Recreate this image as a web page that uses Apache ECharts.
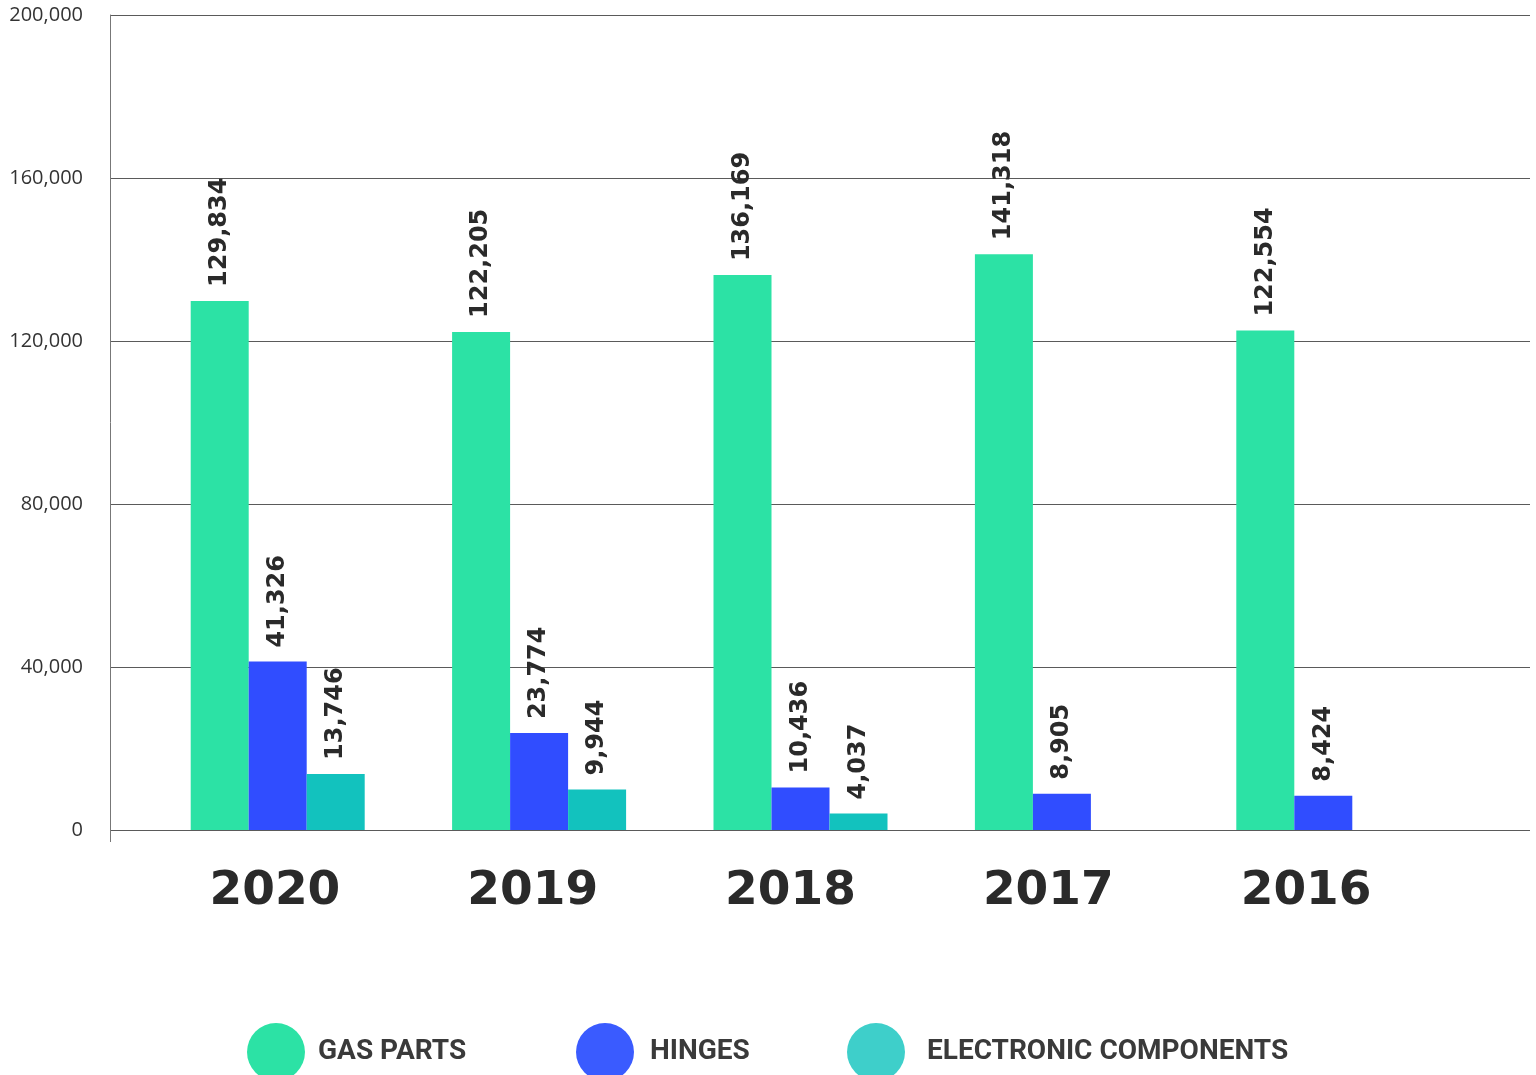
<!DOCTYPE html>
<html>
<head>
<meta charset="utf-8">
<title>Sales by product line, 2016–2020</title>
<script src="https://cdn.jsdelivr.net/npm/echarts@6/dist/echarts.min.js"></script>
<style>
  html, body { margin: 0; padding: 0; background: #ffffff; }
  #chart { width: 1536px; height: 1075px; }
</style>
</head>
<body>
<div id="chart"></div>
<script>
// Years shown left to right
const years = ['2020', '2019', '2018', '2017', '2016'];

// Units per product line and year (null = no entry that year)
const gasParts = [129834, 122205, 136169, 141318, 122554];
const hinges = [41326, 23774, 10436, 8905, 8424];
const electronicComponents = [13746, 9944, 4037, null, null];

// Value axis range and step
const yMin = 0;
const yMax = 200000;
const yStep = 40000;

const seriesNames = ['GAS PARTS', 'HINGES', 'ELECTRONIC COMPONENTS'];
const barColors = ['#2ce2a5', '#304dff', '#12c2be'];
const legendColors = ['#2ce2a5', '#3a5bff', '#3ecfca'];

const ink = '#2a2a2a';
const fmt = v => Number(v).toLocaleString('en-US');

const valueLabel = {
  show: true,
  position: 'top',
  rotate: 90,
  align: 'left',
  verticalAlign: 'middle',
  distance: 14,
  fontFamily: 'DejaVu Sans',
  fontWeight: 'bold',
  fontSize: 24,
  color: ink,
  formatter: p => fmt(p.value)
};

function barSeries(i, data) {
  return {
    name: seriesNames[i],
    type: 'bar',
    xAxisIndex: 1,
    yAxisIndex: 1,
    data: data,
    barWidth: 58,
    barGap: '0%',
    itemStyle: { color: barColors[i] },
    label: valueLabel,
    emphasis: { disabled: true }
  };
}

function legendItem(i, left, textGap) {
  return {
    data: [{ name: seriesNames[i], itemStyle: { color: legendColors[i] } }],
    left: left,
    top: 1023,
    padding: 0,
    orient: 'horizontal',
    icon: 'circle',
    itemWidth: 58,
    itemHeight: 58,
    selectedMode: false,
    textStyle: {
      fontFamily: '"Liberation Sans Narrow", "Roboto", sans-serif',
      fontWeight: 'bold',
      fontSize: 28,
      color: '#3a3a3a',
      padding: [6, 0, 0, textGap]
    }
  };
}

const chart = echarts.init(document.getElementById('chart'), null, { renderer: 'canvas' });

chart.setOption({
  animation: false,
  backgroundColor: '#ffffff',
  grid: [
    // frame: gridlines, value labels and left axis line
    { left: 110, right: 6, top: 15, bottom: 245 },
    // bars
    { left: 147, right: 82, top: 15, bottom: 245 },
    // year labels
    { left: 146, right: 101, top: 15, bottom: 245 }
  ],
  xAxis: [
    {
      gridIndex: 0,
      type: 'value',
      min: 0,
      max: 1,
      axisLine: { show: false },
      axisTick: { show: true, customValues: [0], length: 12, lineStyle: { color: '#777777', width: 1 } },
      axisLabel: { show: false },
      splitLine: { show: false }
    },
    {
      gridIndex: 1,
      type: 'category',
      data: years,
      axisLine: { show: false },
      axisTick: { show: false },
      axisLabel: { show: false }
    },
    {
      gridIndex: 2,
      type: 'category',
      data: years,
      axisLine: { show: false },
      axisTick: { show: false },
      axisLabel: {
        margin: 38,
        fontFamily: 'DejaVu Sans',
        fontWeight: 'bold',
        fontSize: 47,
        color: ink
      }
    }
  ],
  yAxis: [
    {
      gridIndex: 0,
      type: 'value',
      min: yMin,
      max: yMax,
      interval: yStep,
      axisLine: { show: true, lineStyle: { color: '#777777', width: 1 } },
      axisTick: { show: false },
      axisLabel: {
        margin: 27,
        fontFamily: '"Open Sans", sans-serif',
        fontSize: 20,
        color: '#333333',
        formatter: v => fmt(v)
      },
      splitLine: { show: true, lineStyle: { color: '#5a5a5a', width: 1 } }
    },
    {
      gridIndex: 1,
      type: 'value',
      min: yMin,
      max: yMax,
      interval: yStep,
      show: false,
      splitLine: { show: false }
    },
    {
      gridIndex: 2,
      type: 'value',
      min: yMin,
      max: yMax,
      interval: yStep,
      show: false,
      splitLine: { show: false }
    }
  ],
  legend: [
    legendItem(0, 247, 8),
    legendItem(1, 576, 11),
    legendItem(2, 847, 17)
  ],
  series: [
    barSeries(0, gasParts),
    barSeries(1, hinges),
    barSeries(2, electronicComponents)
  ]
});
</script>
</body>
</html>
